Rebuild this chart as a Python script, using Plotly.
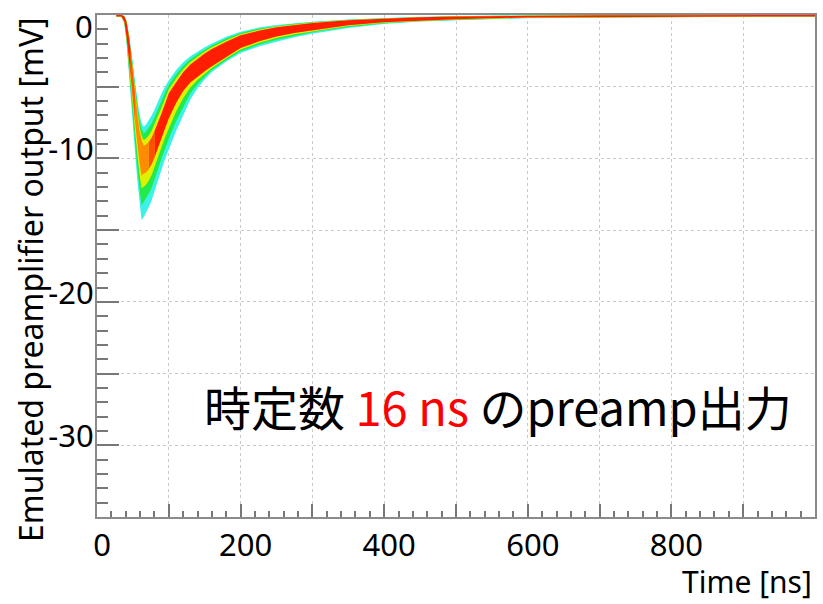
import plotly.graph_objects as go

# Time samples (ns) of the emulated preamplifier pulses
t_ns = [27, 34, 38, 41, 44, 47, 50, 53, 56, 59, 62, 65, 68, 72, 76, 80, 85, 90, 95, 100,
        110, 120, 130, 140, 150, 160, 180, 200, 225, 250, 275, 300, 350, 400, 450, 500,
        600, 700, 800, 1000]

# Density contours of the overlaid waveforms (mV): upper / lower boundary of each level
outer_hi = [0, 0, -0.08, -0.39, -1.17, -2.18, -3.35, -4.68, -5.85, -6.86, -7.49, -7.8, -7.65, -7.35,
            -7.0, -6.6, -6.0, -5.45, -4.97, -4.55, -3.85, -3.3, -2.88, -2.55, -2.25, -1.98, -1.52,
            -1.16, -0.88, -0.7, -0.57, -0.47, -0.31, -0.2, -0.12, -0.07, -0.03, -0.01, 0, 0]
outer_lo = [-0.13, -0.15, -0.57, -1.86, -3.58, -5.58, -7.58, -9.58, -11.44, -13.01, -14.3, -14.1,
            -13.85, -13.4, -12.95, -12.4, -11.55, -10.75, -10.0, -9.4, -8.1, -7.0, -5.9, -5.1,
            -4.5, -3.98, -3.25, -2.65, -2.2, -1.86, -1.55, -1.3, -0.9, -0.62, -0.46, -0.36, -0.22,
            -0.18, -0.15, -0.12]

mid_hi = [0, 0, -0.08, -0.41, -1.24, -2.31, -3.55, -4.95, -6.19, -7.26, -7.92, -8.26, -8.14, -7.88,
          -7.54, -7.13, -6.53, -5.94, -5.38, -4.87, -4.15, -3.55, -3.08, -2.73, -2.4, -2.12, -1.64,
          -1.25, -0.96, -0.76, -0.61, -0.5, -0.33, -0.22, -0.13, -0.08, -0.03, -0.01, 0, 0]
mid_lo = [-0.12, -0.13, -0.53, -1.73, -3.33, -5.19, -7.05, -8.91, -10.64, -12.1, -13.3, -13.03,
          -12.85, -12.47, -12.06, -11.54, -10.75, -9.98, -9.25, -8.63, -7.42, -6.41, -5.48, -4.82,
          -4.3, -3.84, -3.13, -2.53, -2.08, -1.73, -1.45, -1.21, -0.84, -0.58, -0.43, -0.34, -0.2,
          -0.17, -0.14, -0.11]

inner_hi = [0, 0, -0.09, -0.44, -1.31, -2.45, -3.76, -5.25, -6.56, -7.7, -8.4, -8.71, -8.63, -8.4,
            -8.09, -7.65, -7.05, -6.43, -5.8, -5.18, -4.45, -3.79, -3.28, -2.9, -2.55, -2.25, -1.76,
            -1.34, -1.03, -0.81, -0.65, -0.53, -0.35, -0.24, -0.15, -0.09, -0.04, -0.02, -0.01, 0]
inner_lo = [-0.11, -0.12, -0.48, -1.57, -3.03, -4.72, -6.41, -8.11, -9.68, -11.01, -12.1, -11.97,
            -11.86, -11.55, -11.17, -10.69, -9.94, -9.21, -8.5, -7.86, -6.74, -5.81, -5.06, -4.54,
            -4.09, -3.7, -3.02, -2.41, -1.96, -1.61, -1.34, -1.13, -0.77, -0.54, -0.4, -0.31, -0.19,
            -0.15, -0.13, -0.1]

core_hi = [0, 0, -0.09, -0.46, -1.37, -2.55, -3.91, -5.46, -6.83, -8.01, -8.74, -9.1, -9.05, -8.85,
           -8.55, -8.1, -7.5, -6.85, -6.15, -5.45, -4.7, -4.0, -3.45, -3.05, -2.68, -2.37, -1.86,
           -1.42, -1.1, -0.86, -0.69, -0.56, -0.37, -0.25, -0.16, -0.1, -0.04, -0.02, -0.01, 0]
core_lo = [-0.1, -0.11, -0.45, -1.46, -2.8, -4.37, -5.94, -7.5, -8.96, -10.19, -11.2, -11.05, -11.0,
           -10.75, -10.4, -9.95, -9.25, -8.55, -7.85, -7.2, -6.15, -5.3, -4.7, -4.3, -3.92, -3.58,
           -2.92, -2.3, -1.85, -1.5, -1.25, -1.05, -0.72, -0.5, -0.38, -0.29, -0.17, -0.14, -0.12,
           -0.1]

# Core colour changes along the pulse (density is lower around the peak)
core_breaks = [27, 47, 53, 72, 80, 1000]
core_colors = ["#ff1e00", "#ff5a00", "#ff8c00", "#ff5000", "#ff1e00"]

x_ticks = [0, 100, 200, 300, 400, 500, 600, 700, 800, 900]
x_labels = ["0", "", "200", "", "400", "", "600", "", "800", ""]
y_ticks = [-35, -30, -25, -20, -15, -10, -5, 0]
# the top label ("0") sits at the frame edge and is placed separately below
y_labels = ["", "-30", "", "-20", "", "-10", "", ""]
y_top_label = "0"

FONT = "Noto Sans"
AXIS_GRAY = "#8a8a8a"


def band(ts, hi, lo, color):
    return go.Scatter(
        x=list(ts) + list(ts)[::-1],
        y=list(hi) + list(lo)[::-1],
        fill="toself", fillcolor=color, mode="lines",
        line=dict(width=0, color=color), hoverinfo="skip", showlegend=False,
    )


fig = go.Figure()
fig.add_trace(band(t_ns, outer_hi, outer_lo, "#3cf2e8"))
fig.add_trace(band(t_ns, mid_hi, mid_lo, "#22ea4a"))
fig.add_trace(band(t_ns, inner_hi, inner_lo, "#e2f000"))
for a, b, col in zip(core_breaks[:-1], core_breaks[1:], core_colors):
    idx = [i for i, t in enumerate(t_ns) if a <= t <= b]
    fig.add_trace(band([t_ns[i] for i in idx], [core_hi[i] for i in idx],
                       [core_lo[i] for i in idx], col))

axis_common = dict(
    ticks="inside", tickcolor="#777777", tickwidth=1.5,
    showgrid=True, gridcolor="#c8c8c8", griddash="dot", gridwidth=1,
    showline=True, linecolor=AXIS_GRAY, linewidth=2, mirror=True,
    zeroline=False, ticklabeloverflow="allow", automargin=False,
    tickfont=dict(family=FONT, size=31, color="black"),
)

fig.update_xaxes(
    range=[0, 1000], tickmode="array", tickvals=x_ticks, ticktext=x_labels,
    ticklen=13, ticklabelshift=5,
    minor=dict(ticks="inside", ticklen=6, tick0=0, dtick=20, tickcolor="#777777",
               showgrid=False),
    **axis_common,
)
fig.update_yaxes(
    range=[-35, 0], tickmode="array", tickvals=y_ticks, ticktext=y_labels,
    ticklen=22, ticklabelshift=-9, ticklabelstandoff=-5,
    minor=dict(ticks="inside", ticklen=11, tick0=0, dtick=1, tickcolor="#777777",
               showgrid=False),
    **axis_common,
)

fig.add_annotation(
    text=y_top_label, xref="paper", yref="y", x=0, y=y_ticks[-1], xshift=-2, yshift=-11,
    xanchor="right", yanchor="middle", showarrow=False,
    font=dict(family=FONT, size=31, color="black"),
)
fig.add_annotation(
    text="Time [ns]", xref="paper", yref="paper", x=1.0, y=-0.1275, xshift=-1,
    xanchor="right", yanchor="middle", showarrow=False,
    font=dict(family=FONT, size=30, color="black"),
)
fig.add_annotation(
    text="Emulated preamplifier output [mV]", xref="paper", yref="paper",
    x=-0.0933, y=0.472, xanchor="center", yanchor="middle", textangle=-90,
    showarrow=False, font=dict(family=FONT, size=32, color="black"),
)
fig.add_annotation(
    text='時定数 <span style="color:#ff0000">16 ns</span> のpreamp出力',
    xref="paper", yref="paper", x=0.146, y=0.222, xanchor="left", yanchor="middle",
    showarrow=False, font=dict(family="Noto Sans CJK JP", size=47, color="black"),
)

fig.update_layout(
    width=823, height=604,
    margin=dict(l=97, r=8, t=15, b=87),
    paper_bgcolor="white", plot_bgcolor="white",
    showlegend=False,
)

fig.write_html("out.html")
